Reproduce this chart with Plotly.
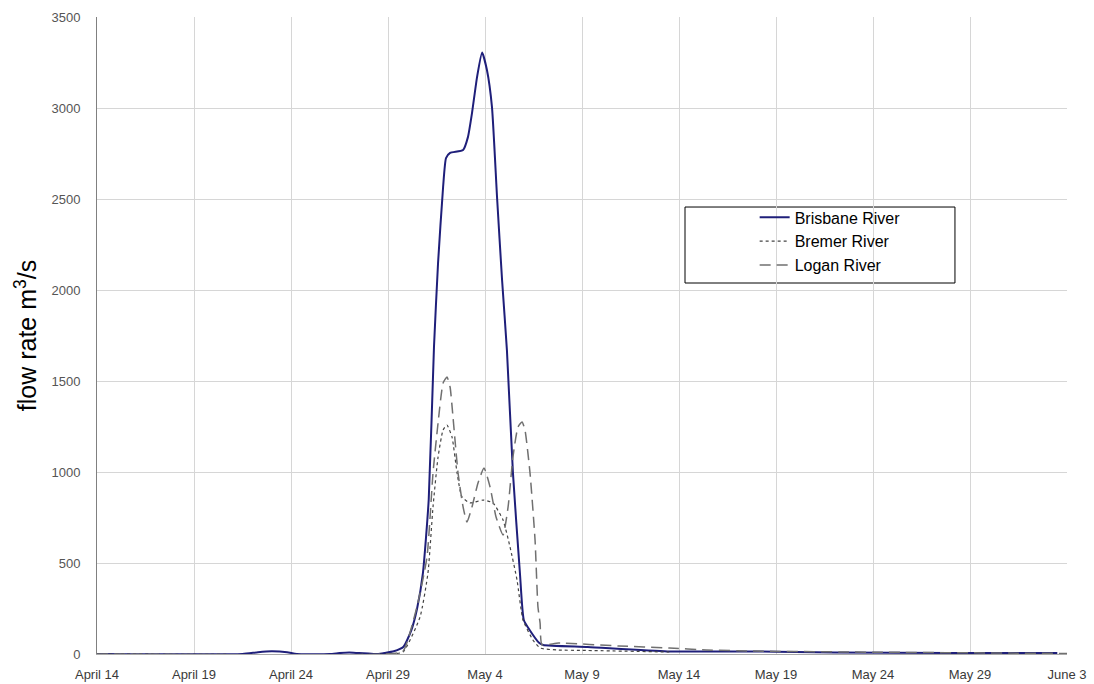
import pandas as pd
import plotly.graph_objects as go

# Time axis: days elapsed since 14 April
START = pd.Timestamp("1996-04-14")

# Brisbane River flow (m3/s)
brisbane_days = [0, 7.5, 8.3, 9.0, 9.8, 10.3, 12.0, 12.5, 13.0, 13.5, 14.0, 14.5, 14.8, 15.3,
                 15.8, 16.2, 16.5, 16.8, 17.1, 17.37, 17.58, 17.84, 17.99, 18.2, 18.87, 19.12,
                 19.33, 19.59, 19.85, 20.1, 20.36, 20.62, 20.88, 21.13, 21.44, 21.8, 22.0, 22.3,
                 22.8, 23.0, 25.3, 29.4, 34.0, 36.0, 38.0, 44.0, 49.5]
brisbane_flow = [0, 0, 10, 15, 10, 0, 0, 5, 8, 5, 3, 0, 5, 15,
                 40, 130, 250, 445, 850, 1687, 2148, 2566, 2725, 2753, 2769, 2840,
                 2972, 3170, 3305, 3209, 3005, 2511, 2055, 1670, 995, 445, 187, 132,
                 60, 49, 38, 14, 14, 11, 8, 6, 5]

# Bremer River flow (m3/s)
bremer_days = [0, 15.0, 15.77, 16.65, 17.06, 17.32, 17.58, 17.84, 18.04, 18.3, 18.56, 18.81,
               19.23, 19.9, 20.41, 20.93, 21.29, 21.65, 21.96, 22.47, 22.84, 23.71, 25.0, 29.5]
bremer_flow = [0, 0, 11, 203, 445, 808, 1082, 1231, 1258, 1192, 995, 863,
               830, 846, 830, 736, 588, 407, 187, 77, 33, 22, 20, 11]

# Logan River flow (m3/s)
logan_days = [0, 15.0, 15.77, 16.49, 17.01, 17.32, 17.58, 17.84, 18.04, 18.2, 18.35, 18.61,
              18.87, 19.07, 19.33, 19.64, 19.95, 20.26, 20.57, 20.93, 21.19, 21.44, 21.7,
              21.91, 22.06, 22.32, 22.58, 22.73, 22.84, 22.94, 23.8, 26.9, 29.5, 31.4, 33.8,
              40.0, 47.0, 50.0]
logan_flow = [0, 0, 15, 258, 533, 995, 1269, 1489, 1522, 1467, 1302, 995,
              808, 725, 808, 940, 1022, 918, 753, 654, 808, 1082, 1247,
              1275, 1231, 995, 626, 258, 170, 50, 60, 44, 33, 22, 16,
              10, 5, 3]

Y_TICKS = list(range(0, 3501, 500))


def to_dates(days):
    return START + pd.to_timedelta(days, unit="D")


FONT = "Liberation Sans, Arial, sans-serif"

fig = go.Figure()
fig.add_trace(go.Scatter(x=to_dates(brisbane_days), y=brisbane_flow, name="Brisbane River",
                         mode="lines", line=dict(color="#1f1f7a", width=2,
                                                 shape="spline", smoothing=0.5)))
fig.add_trace(go.Scatter(x=to_dates(bremer_days), y=bremer_flow, name="Bremer River",
                         mode="lines", line=dict(color="#444444", width=1.2, dash="dot",
                                                 shape="spline", smoothing=0.5)))
fig.add_trace(go.Scatter(x=to_dates(logan_days), y=logan_flow, name="Logan River",
                         mode="lines", line=dict(color="#707070", width=1.5, dash="11px,6px",
                                                 shape="spline", smoothing=0.5)))

# framed legend box
fig.add_shape(type="rect", xref="paper", yref="paper",
              x0=0.6062, x1=0.8845, y0=0.5824, y1=0.7017,
              line=dict(color="black", width=1), fillcolor="white", layer="below")

fig.update_layout(
    width=1094, height=684,
    margin=dict(l=97, r=27, t=17, b=30, autoexpand=False),
    paper_bgcolor="white", plot_bgcolor="rgba(0,0,0,0)",
    font=dict(family=FONT, color="#333333", size=13),
    showlegend=True,
    legend=dict(x=0.678, y=0.712, xanchor="left", yanchor="top",
                bgcolor="rgba(0,0,0,0)", borderwidth=0, tracegroupgap=0,
                font=dict(family=FONT, size=16, color="black")),
    xaxis=dict(type="date", range=[START, START + pd.Timedelta(days=50)],
               tick0=START, dtick=5 * 86400000, tickformat="%B %-d",
               showgrid=True, gridcolor="#d6d6d6", gridwidth=1,
               showline=True, linecolor="#a8a8a8", linewidth=1,
               ticks="", zeroline=False, ticklabelstandoff=8, automargin=False,
               tickfont=dict(size=13, color="#3a3a3a")),
    yaxis=dict(range=[0, 3500], tickvals=Y_TICKS,
               showgrid=True, gridcolor="#d6d6d6", gridwidth=1,
               showline=True, linecolor="#808080", linewidth=1,
               ticks="", zeroline=False, ticklabelstandoff=13, automargin=False,
               tickfont=dict(size=13, color="#555555"),
               title=dict(text="flow rate m<sup>3</sup>/s", standoff=7,
                          font=dict(size=25, color="black"))),
)

fig.write_html("out.html")
